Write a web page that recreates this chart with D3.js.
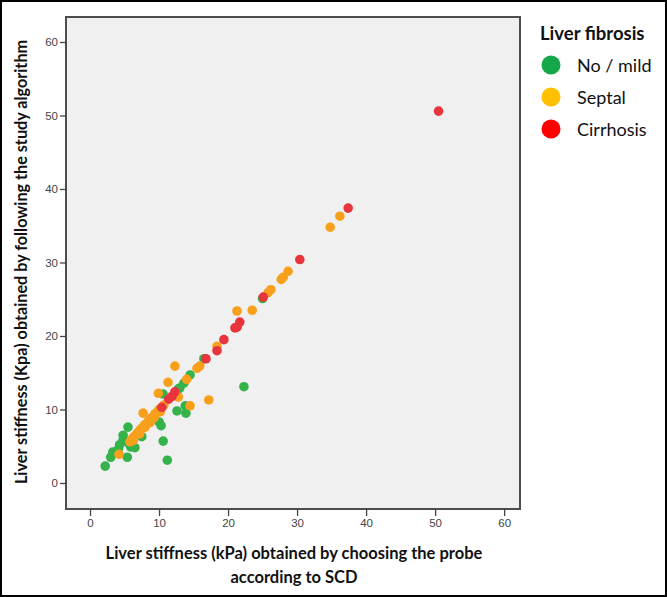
<!DOCTYPE html>
<html><head><meta charset="utf-8">
<script src="https://cdn.jsdelivr.net/npm/d3@7"></script>
<style>body{margin:0;background:#fff;}svg{display:block;}</style>
</head><body>
<svg id="c" width="667" height="597"></svg>
<script>
// Data: [x = LS by choosing probe according to SCD, y = LS by study algorithm]
const noMild = [[2.2,2.3],[3.0,3.5],[3.3,4.2],[4.1,4.6],[4.3,5.2],[4.8,5.9],[4.8,6.5],[5.5,7.6],[5.4,3.5],[6.5,4.8],[7.5,6.3],[5.6,5.4],[6.3,6.1],[7.0,6.8],[5.9,4.9],[10.0,8.3],[10.3,7.8],[10.6,5.7],[11.2,3.1],[12.6,9.8],[13.9,9.5],[13.8,10.5],[10.6,12.1],[13.0,12.9],[12.8,12.8],[13.6,13.6],[14.5,14.7],[22.3,13.1],[25.0,25.1],[16.5,16.9]];
const septal = [[4.2,3.9],[5.8,5.6],[6.1,6.0],[6.3,5.8],[6.4,6.3],[6.7,6.6],[7.0,6.9],[7.2,6.7],[7.3,7.3],[7.6,7.5],[7.9,7.9],[8.0,7.6],[8.2,8.1],[8.5,8.5],[8.7,8.2],[8.8,8.8],[9.1,9.0],[9.3,8.9],[9.4,9.4],[9.7,9.6],[10.0,10.0],[10.2,9.7],[10.7,10.6],[7.7,9.5],[9.9,12.2],[11.3,13.7],[12.3,15.9],[12.8,11.7],[14.5,10.5],[17.2,11.3],[14.0,14.1],[15.5,15.6],[15.9,15.9],[18.4,18.6],[21.3,23.4],[23.5,23.5],[25.8,25.9],[26.2,26.3],[27.7,27.7],[28.0,28.0],[28.7,28.8],[34.8,34.8],[36.2,36.3]];
const cirrhosis = [[50.5,50.6],[37.4,37.4],[30.4,30.4],[25.1,25.3],[21.7,21.9],[21.3,21.2],[21.0,21.1],[19.4,19.5],[18.4,18.0],[16.8,16.9],[12.3,12.4],[11.9,11.8],[11.4,11.4],[10.4,10.3]];
const groups = ["No / mild","Septal","Cirrhosis"];
const xTicks = [0,10,20,30,40,50,60];
const yTicks = [0,10,20,30,40,50,60];

const pointColor = {"No / mild":"#35b34a","Septal":"#f8a01c","Cirrhosis":"#e8343c"};
const legendColor = {"No / mild":"#14a84b","Septal":"#ffc000","Cirrhosis":"#ff0000"};

const svg = d3.select("#c");
svg.append("rect").attr("x",1).attr("y",1).attr("width",665).attr("height",595)
  .attr("fill","#fff").attr("stroke","#000").attr("stroke-width",2);

const L=66,R=520,T=17,B=509;
const x = d3.scaleLinear().domain([-3.48,62.3]).range([L,R]);
const y = d3.scaleLinear().domain([-3.54,63.4]).range([B,T]);

svg.append("rect").attr("x",L).attr("y",T).attr("width",R-L).attr("height",B-T)
  .attr("fill","#f0f0f0").attr("stroke","#4d4d4d").attr("stroke-width",2);

const xAxis = svg.append("g").attr("transform",`translate(0,${B})`)
  .call(d3.axisBottom(x).tickValues(xTicks).tickSize(7).tickPadding(3));
const yAxis = svg.append("g").attr("transform",`translate(${L},0)`)
  .call(d3.axisLeft(y).tickValues(yTicks).tickSize(6).tickPadding(2));
[xAxis,yAxis].forEach(a=>{
  a.select(".domain").remove();
  a.selectAll(".tick line").attr("stroke","#444").attr("stroke-width",1.3);
  a.selectAll(".tick text").attr("fill","#444").style("font-family","Liberation Sans, Arial, sans-serif").style("font-size","11.5px");
});

const data = [];
noMild.forEach(d=>data.push({g:"No / mild",x:d[0],y:d[1]}));
septal.forEach(d=>data.push({g:"Septal",x:d[0],y:d[1]}));
cirrhosis.forEach(d=>data.push({g:"Cirrhosis",x:d[0],y:d[1]}));

svg.append("g").selectAll("circle").data(data).join("circle")
  .attr("cx",d=>x(d.x)).attr("cy",d=>y(d.y)).attr("r",4.8)
  .attr("fill",d=>pointColor[d.g]);

const tf = "Lato, 'Open Sans', sans-serif";
const xt = svg.append("text").attr("text-anchor","middle")
  .style("font-family",tf).style("font-weight","bold").style("font-size","16.5px").attr("fill","#111");
xt.append("tspan").attr("x",294).attr("y",559).text("Liver stiffness (kPa) obtained by choosing the probe");
xt.append("tspan").attr("x",294).attr("y",583).text("according to SCD");

svg.append("text").attr("transform","translate(27,262) rotate(-90)").attr("text-anchor","middle")
  .style("font-family",tf).style("font-weight","bold").style("font-size","16.2px").attr("fill","#111")
  .text("Liver stiffness (Kpa) obtained by following the study algorithm");

svg.append("text").attr("x",540).attr("y",40).style("font-family",tf).style("font-weight","bold")
  .style("font-size","18.5px").attr("fill","#111").text("Liver fibrosis");
const lg = svg.append("g").selectAll("g").data(groups).join("g")
  .attr("transform",(d,i)=>`translate(0,${65+i*32})`);
lg.append("circle").attr("cx",551).attr("cy",0).attr("r",9.5).attr("fill",d=>legendColor[d]);
lg.append("text").attr("x",577).attr("y",6.5).style("font-family",tf).style("font-size","18px")
  .attr("fill","#111").text(d=>d);
</script>
</body></html>
